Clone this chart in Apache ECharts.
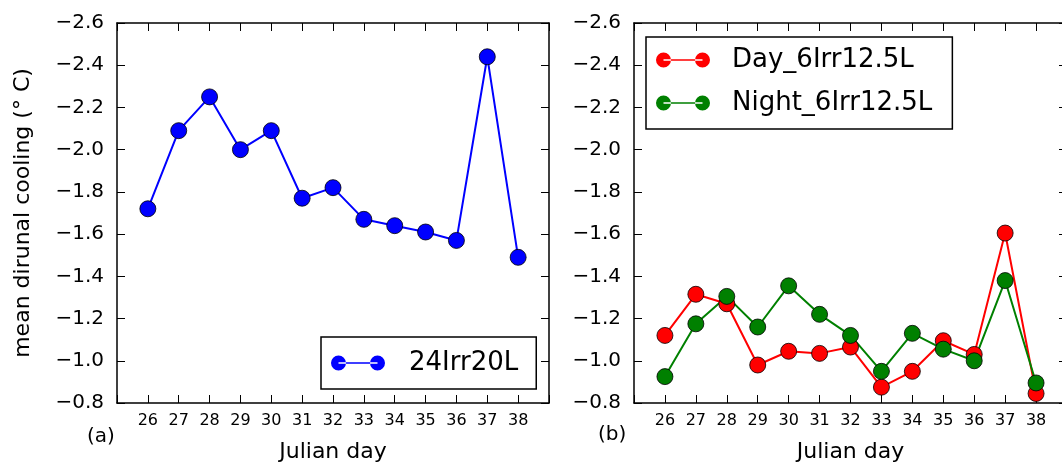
<!DOCTYPE html>
<html>
<head>
<meta charset="utf-8">
<script src="https://cdn.jsdelivr.net/npm/echarts@6/dist/echarts.min.js"></script>
<style>
  html, body { margin: 0; padding: 0; background: #fff; overflow: hidden; }
  #main { width: 1075px; height: 463px; }
</style>
</head>
<body>
<div id="main"></div>
<script>
// julian days on the x axis
var days = [26, 27, 28, 29, 30, 31, 32, 33, 34, 35, 36, 37, 38];
// (a) mean diurnal cooling, 24Irr20L
var irr24 = [-1.72, -2.09, -2.25, -2.00, -2.09, -1.77, -1.82, -1.67, -1.64, -1.61, -1.57, -2.44, -1.49];
// (b) day / night irrigation, 6Irr12.5L
var day6 = [-1.12, -1.315, -1.27, -0.98, -1.045, -1.035, -1.065, -0.875, -0.95, -1.095, -1.03, -1.605, -0.845];
var night6 = [-0.925, -1.175, -1.305, -1.16, -1.355, -1.22, -1.12, -0.95, -1.13, -1.055, -1.0, -1.38, -0.895];

var FONT = 'DejaVu Sans';
var twoDots = 'path://M0,7.5a7.5,7.5 0 1,0 15,0a7.5,7.5 0 1,0 -15,0zM39,7.5a7.5,7.5 0 1,0 15,0a7.5,7.5 0 1,0 -15,0zM7.5,6.75h39v1.5h-39z';

function pairs(arr){
	return days.map(function(d, i){ return [d, arr[i]]; });
}

function yFmt(v){
	return (v < 0 ? '\u2212' : '') + Math.abs(v).toFixed(1);
}

function xAx(grid, pos){
	var bottom = pos === 'bottom';
	return {
		type: 'value', gridIndex: grid, position: pos,
		min: 25, max: 39, interval: 1,
		name: bottom ? 'Julian day' : '',
		nameLocation: 'middle', nameGap: 38,
		nameTextStyle: { fontFamily: FONT, fontSize: 22, color: '#000' },
		axisLine: { show: true, onZero: false, lineStyle: { color: '#000', width: 1.5 } },
		axisTick: { show: true, inside: true, length: 8, lineStyle: { color: '#000', width: 1 } },
		axisLabel: {
			show: bottom, margin: 10, fontFamily: FONT, fontSize: 16, color: '#000',
			formatter: function(v){ return (v === 25 || v === 39) ? '' : v; }
		},
		splitLine: { show: false }
	};
}

function yAx(grid, pos, withName){
	var left = pos === 'left';
	return {
		type: 'value', gridIndex: grid, position: pos,
		min: -2.6, max: -0.8, interval: 0.2, inverse: true,
		name: withName ? 'mean dirunal cooling (\u00b0 C)' : '',
		nameLocation: 'middle', nameGap: 83,
		nameTextStyle: { fontFamily: FONT, fontSize: 22, color: '#000' },
		axisLine: { show: true, onZero: false, lineStyle: { color: '#000', width: 1.5 } },
		axisTick: { show: true, inside: true, length: 8, lineStyle: { color: '#000', width: 1 } },
		axisLabel: { show: left, margin: 13, fontFamily: FONT, fontSize: 20, color: '#000', formatter: yFmt },
		splitLine: { show: false }
	};
}

function lineSeries(name, arr, color, xi, yi){
	return {
		name: name, type: 'line', xAxisIndex: xi, yAxisIndex: yi,
		data: pairs(arr),
		symbol: 'circle', symbolSize: 16,
		itemStyle: { color: color, borderColor: '#000', borderWidth: 0.8 },
		lineStyle: { color: color, width: 2 },
		emphasis: { disabled: true }
	};
}

var legendBase = {
	orient: 'vertical',
	borderColor: '#000', borderWidth: 1.5, backgroundColor: '#fff', borderRadius: 0,
	icon: twoDots, itemWidth: 54, itemHeight: 15,
	itemStyle: { borderWidth: 0 },
	selectedMode: false
};

var myChart = echarts.init(document.getElementById('main'));
var option = {
	animation: false,
	backgroundColor: '#fff',
	grid: [
		{ left: 117, top: 23, width: 432, height: 380, outerBoundsMode: 'none', containLabel: false },
		{ left: 634, top: 23, width: 433, height: 380, outerBoundsMode: 'none', containLabel: false }
	],
	xAxis: [xAx(0, 'bottom'), xAx(0, 'top'), xAx(1, 'bottom'), xAx(1, 'top')],
	yAxis: [yAx(0, 'left', true), yAx(0, 'right', false), yAx(1, 'left', false), yAx(1, 'right', false)],
	legend: [
		Object.assign({}, legendBase, {
			data: ['24Irr20L'], left: 321, top: 337,
			padding: [13, 18, 13, 10],
			textStyle: { fontFamily: FONT, fontSize: 26, color: '#000', padding: [0, 0, 0, 19] }
		}),
		Object.assign({}, legendBase, {
			data: ['Day_6Irr12.5L', 'Night_6Irr12.5L'], left: 646, top: 37,
			padding: [10, 20, 13, 10], itemGap: 17,
			textStyle: { fontFamily: FONT, fontSize: 26, color: '#000', padding: [0, 0, 0, 17] }
		})
	],
	graphic: [
		{ type: 'text', left: 87, top: 427, style: { text: '(a)', fontFamily: FONT, fontSize: 20, fill: '#000' } },
		{ type: 'text', left: 598, top: 425, style: { text: '(b)', fontFamily: FONT, fontSize: 20, fill: '#000' } }
	],
	series: [
		lineSeries('24Irr20L', irr24, '#0000ff', 0, 0),
		lineSeries('Day_6Irr12.5L', day6, '#ff0000', 2, 2),
		lineSeries('Night_6Irr12.5L', night6, '#008000', 2, 2)
	]
};
myChart.setOption(option);
</script>
</body>
</html>
